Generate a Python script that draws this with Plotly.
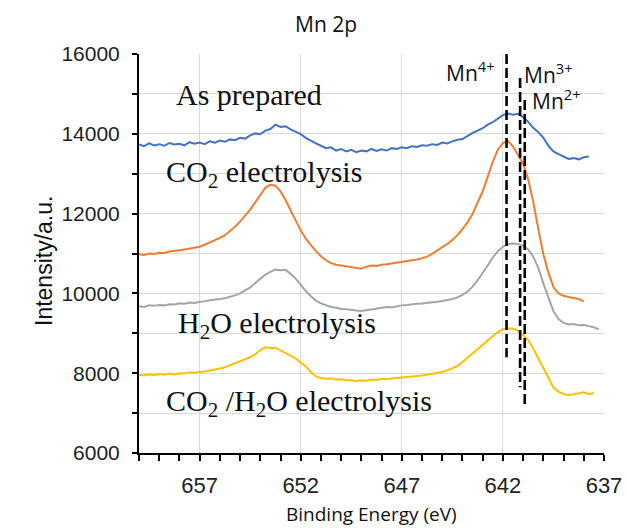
import plotly.graph_objects as go

# ---------------- data ----------------
step = 0.25
start_be = 660.0

as_prepared = [13730, 13690, 13760, 13710, 13740, 13700, 13770, 13730, 13750, 13710,
               13790, 13750, 13780, 13740, 13810, 13780, 13830, 13800, 13860, 13840,
               13900, 13880, 13960, 14010, 13990, 14080, 14120, 14230, 14170, 14190,
               14110, 14060, 13990, 13900, 13820, 13760, 13700, 13640, 13660, 13580,
               13620, 13560, 13600, 13540, 13580, 13560, 13620, 13570, 13610, 13580,
               13640, 13620, 13660, 13640, 13690, 13670, 13710, 13700, 13740, 13720,
               13780, 13760, 13810, 13850, 13870, 13950, 14020, 14080, 14140, 14230,
               14290, 14380, 14470, 14510, 14480, 14500, 14420, 14300, 14150, 14040,
               13900, 13700, 13560, 13490, 13420, 13370, 13390, 13360, 13410, 13430]

co2_electrolysis = [10980, 10960, 11000, 10990, 11020, 11010, 11050, 11060, 11080, 11100,
                    11120, 11150, 11170, 11220, 11270, 11330, 11390, 11460, 11560, 11670,
                    11800, 11940, 12100, 12280, 12480, 12650, 12720, 12700, 12560, 12340,
                    12080, 11820, 11580, 11370, 11200, 11060, 10930, 10830, 10760, 10720,
                    10700, 10680, 10660, 10640, 10620, 10670, 10700, 10690, 10720, 10730,
                    10750, 10760, 10790, 10800, 10830, 10850, 10880, 10920, 10990, 11070,
                    11150, 11240, 11340, 11460, 11610, 11780, 11990, 12260, 12560, 12920,
                    13300, 13600, 13770, 13820, 13680, 13470, 13250, 12860, 12300, 11620,
                    10980, 10520, 10160, 10000, 9940, 9910, 9890, 9860, 9800]

h2o_electrolysis = [9680, 9660, 9700, 9690, 9710, 9700, 9730, 9720, 9750, 9740,
                    9770, 9760, 9790, 9800, 9830, 9840, 9860, 9880, 9910, 9950,
                    10000, 10070, 10150, 10260, 10360, 10470, 10540, 10600, 10580, 10590,
                    10490, 10370, 10220, 10060, 9930, 9820, 9750, 9700, 9660, 9640,
                    9610, 9600, 9580, 9570, 9560, 9580, 9600, 9620, 9640, 9660,
                    9650, 9680, 9700, 9710, 9730, 9740, 9750, 9760, 9780, 9790,
                    9810, 9830, 9860, 9900, 9960, 10050, 10170, 10330, 10500, 10700,
                    10900, 11060, 11170, 11230, 11250, 11240, 11190, 11100, 10920, 10640,
                    10250, 9880, 9550, 9360, 9260, 9220, 9230, 9200, 9210, 9180,
                    9150, 9100]

co2_h2o_electrolysis = [7960, 7940, 7970, 7950, 7980, 7960, 7990, 7970, 8000, 7990,
                        8020, 8010, 8030, 8040, 8070, 8090, 8120, 8150, 8200, 8240,
                        8290, 8330, 8400, 8470, 8580, 8650, 8630, 8640, 8580, 8510,
                        8440, 8370, 8280, 8170, 8030, 7920, 7880, 7860, 7870, 7840,
                        7850, 7820, 7830, 7800, 7820, 7810, 7840, 7830, 7860, 7850,
                        7870, 7880, 7890, 7900, 7920, 7930, 7940, 7960, 7980, 8000,
                        8030, 8070, 8120, 8180, 8280, 8380, 8490, 8600, 8710, 8820,
                        8930, 9030, 9100, 9120, 9120, 9060, 8960, 8830, 8620, 8380,
                        8120, 7860, 7640, 7540, 7480, 7450, 7470, 7500, 7520, 7480,
                        7500]

series_names = ["As prepared", "CO2 electrolysis", "H2O electrolysis", "CO2/H2O electrolysis"]
series_values = [as_prepared, co2_electrolysis, h2o_electrolysis, co2_h2o_electrolysis]
series_colors = ["#4472C4", "#ED7D31", "#A5A5A5", "#FFC000"]

# reference lines for Mn oxidation states
ref_energy = [641.82, 641.15, 640.92]
ref_top = [16000, 15400, 14850]
ref_bottom = [8400, 7650, 7150]

x_ticks = [657, 652, 647, 642, 637]
y_ticks = [6000, 8000, 10000, 12000, 14000, 16000]

# ---------------- figure ----------------
fig = go.Figure()

for name, vals, col in zip(series_names, series_values, series_colors):
    be = [round(start_be - step * i, 2) for i in range(len(vals))]
    fig.add_trace(go.Scatter(x=be, y=vals, mode="lines", name=name,
                             line=dict(color=col, width=2), showlegend=False))

for e, t, b in zip(ref_energy, ref_top, ref_bottom):
    fig.add_trace(go.Scatter(x=[e, e], y=[t, b], mode="lines", showlegend=False,
                             line=dict(color="black", width=2.6, dash="10px,4px")))

grid = "#D9D9D9"
fig.update_xaxes(range=[660, 637], tickmode="array", tickvals=x_ticks,
                 ticktext=[str(v) for v in x_ticks], automargin=False,
                 showgrid=True, gridcolor=grid, gridwidth=1,
                 showline=True, linecolor="black", linewidth=2,
                 ticks="outside", ticklen=6, tickwidth=2, tickcolor="black",
                 minor=dict(tickmode="linear", tick0=637, dtick=1, ticks="outside",
                            ticklen=6, tickwidth=2, tickcolor="black", showgrid=False),
                 tickfont=dict(family="Liberation Sans, Arial", size=22, color="#222"),
                 ticklabelstandoff=6, zeroline=False)
fig.update_yaxes(range=[6000, 16000], tickmode="array", tickvals=y_ticks,
                 ticktext=[str(v) for v in y_ticks], automargin=False,
                 showgrid=True, gridcolor=grid, gridwidth=1,
                 showline=True, linecolor="black", linewidth=2,
                 ticks="outside", ticklen=5, tickwidth=2, tickcolor="black",
                 minor=dict(tickmode="linear", tick0=6000, dtick=1000, ticks="outside",
                            ticklen=5, tickwidth=2, tickcolor="black",
                            showgrid=True, gridcolor=grid, gridwidth=1),
                 tickfont=dict(family="Liberation Sans, Arial", size=21, color="#222"),
                 ticklabelstandoff=8, zeroline=False)

serif = "Liberation Serif, Times New Roman"
sans = "Open Sans, Noto Sans"
ann = []
# series labels
for txt, x, y in [("As prepared", 658.27, 14985),
                  ("CO<sub>2</sub> electrolysis", 658.77, 13005),
                  ("H<sub>2</sub>O electrolysis", 658.17, 9196),
                  ("CO<sub>2</sub> /H<sub>2</sub>O electrolysis", 658.77, 7254)]:
    ann.append(dict(text=txt, x=x, y=y, xref="x", yref="y", xanchor="left",
                    yanchor="middle", showarrow=False,
                    font=dict(family=serif, size=30, color="#111")))
# Mn labels
for txt, x, y in [("Mn<sup>4+</sup>", 644.9, 15549),
                  ("Mn<sup>3+</sup>", 641.06, 15520),
                  ("Mn<sup>2+</sup>", 640.66, 14850)]:
    ann.append(dict(text=txt, x=x, y=y, xref="x", yref="y", xanchor="left",
                    yanchor="middle", showarrow=False,
                    font=dict(family=sans, size=21, color="#111")))
# title and axis titles
ann.append(dict(text="Mn 2p", x=(326 - 139) / 465, y=(453 - 24) / 399, xref="paper",
                yref="paper", xanchor="center", yanchor="middle", showarrow=False,
                font=dict(family=sans, size=21, color="#111")))
ann.append(dict(text="Binding Energy (eV)", x=0.5, y=(453 - 514) / 399, xref="paper",
                yref="paper", xanchor="center", yanchor="middle", showarrow=False,
                font=dict(family=sans, size=19, color="#111")))
ann.append(dict(text="Intensity/a.u.", x=(44 - 139) / 465, y=(453 - 261) / 399,
                xref="paper", yref="paper", xanchor="center", yanchor="middle",
                textangle=-90, showarrow=False,
                font=dict(family="Liberation Sans, Arial", size=23, color="#111")))

fig.update_layout(width=627, height=528, margin=dict(l=139, r=23, t=54, b=75),
                  paper_bgcolor="white", plot_bgcolor="white", annotations=ann,
                  showlegend=False)

fig.write_html("out.html", config={"displayModeBar": False},
               post_script="document.body.style.margin='0px';document.body.style.overflow='hidden';")
